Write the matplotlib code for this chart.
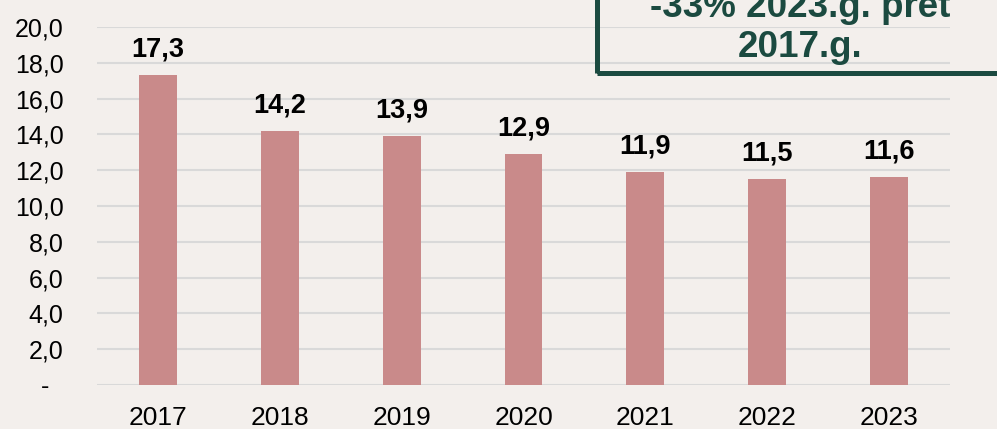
import matplotlib.pyplot as plt
from matplotlib.patches import Rectangle
from matplotlib.ticker import FuncFormatter

plt.rcParams['font.family'] = ['Liberation Sans', 'DejaVu Sans']

years = ['2017', '2018', '2019', '2020', '2021', '2022', '2023']
values = [17.3, 14.2, 13.9, 12.9, 11.9, 11.5, 11.6]
note_lines = ['-33% 2023.g. pret', '2017.g.']

bg = '#f3efec'
bar_color = '#c98a8a'
green = '#1b4a40'

fig = plt.figure(figsize=(9.97, 4.29), dpi=100, facecolor=bg)
W, H = 997, 429
# axes placed in pixel terms
ax = fig.add_axes([97 / W, (H - 385) / H, (950 - 97) / W, (385 - 27) / H], facecolor=bg)

x = range(len(years))
ax.bar(x, values, width=0.31, color=bar_color, zorder=3)
ax.set_xlim(-0.5, len(years) - 0.5)
ax.set_ylim(0, 20)
ax.set_yticks(range(0, 21, 2))

def fmt(v, pos):
    if v == 0:
        return '-  '
    return f'{v:.1f}'.replace('.', ',')

ax.yaxis.set_major_formatter(FuncFormatter(fmt))
ax.set_xticks(list(x))
ax.set_xticklabels(years)
ax.tick_params(axis='y', length=0, pad=24, labelsize=18)
ax.tick_params(axis='x', length=0, pad=15, labelsize=19)
ax.grid(axis='y', color='#d9d9d9', linewidth=1.5, zorder=0)
for s in ax.spines.values():
    s.set_visible(False)

for xi, v in zip(x, values):
    ax.annotate(f'{v:.1f}'.replace('.', ','), (xi, v), xytext=(0, 13.5),
                textcoords='offset points', ha='center', va='baseline',
                fontsize=19.5, fontweight='bold', color='black')

# callout box (runs off the top and right edges)
fig.patches.append(Rectangle((597 / W, (H - 72.5) / H), 0.5, 0.5,
                             transform=fig.transFigure, fill=False,
                             edgecolor=green, linewidth=3.6))
fig.text(800 / W, (H - 17) / H, note_lines[0], ha='center', va='baseline',
         fontsize=26.5, fontweight='bold', color=green)
fig.text(800 / W, (H - 57) / H, note_lines[1], ha='center', va='baseline',
         fontsize=26.5, fontweight='bold', color=green)

fig.savefig('out.png', dpi=100, facecolor=bg)
